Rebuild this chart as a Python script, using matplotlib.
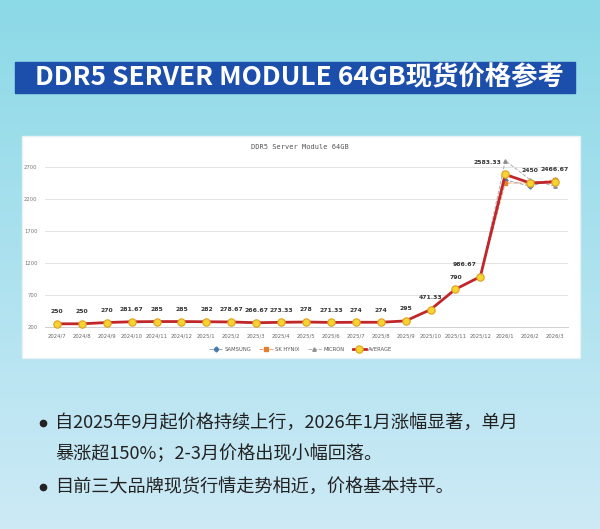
import matplotlib
matplotlib.use('Agg')

import numpy as np
from matplotlib import pyplot as plt
from matplotlib.patches import Rectangle

plt.rcParams['font.family'] = ['Noto Sans CJK SC', 'DejaVu Sans']

months = ['2024/7', '2024/8', '2024/9', '2024/10', '2024/11', '2024/12', '2025/1',
          '2025/2', '2025/3', '2025/4', '2025/5', '2025/6', '2025/7', '2025/8',
          '2025/9', '2025/10', '2025/11', '2025/12', '2026/1', '2026/2', '2026/3']
average = [250, 250, 270, 281.67, 285, 285, 282, 278.67, 266.67, 273.33, 278,
           271.33, 274, 274, 295, 471.33, 790, 986.67, 2583.33, 2450, 2466.67]
samsung = [250, 250, 270, 285, 285, 285, 280, 280, 265, 275, 278, 270, 274, 274,
           295, 470, 790, 990, 2500, 2400, 2500]
sk_hynix = [250, 250, 270, 280, 285, 285, 283, 278, 268, 272, 278, 272, 274, 274,
            295, 472, 790, 985, 2450, 2450, 2500]
micron = [250, 250, 270, 280, 285, 285, 283, 278, 267, 273, 278, 272, 274, 274,
          295, 472, 790, 985, 2800, 2500, 2400]
labels = ['250', '250', '270', '281.67', '285', '285', '282', '278.67', '266.67',
          '273.33', '278', '271.33', '274', '274', '295', '471.33', '790', '986.67',
          '2583.33', '2450', '2466.67']
yticks = [200, 700, 1200, 1700, 2200, 2700]

title = 'DDR5 SERVER MODULE 64GB现货价格参考'
bullets = ['自2025年9月起价格持续上行，2026年1月涨幅显著，单月',
           '暴涨超150%；2-3月价格出现小幅回落。',
           '目前三大品牌现货行情走势相近，价格基本持平。']

W, H = 600, 529
fig = plt.figure(figsize=(W / 100, H / 100), dpi=100)

# background gradient
bg = fig.add_axes([0, 0, 1, 1])
top = np.array([0x8c, 0xd9, 0xe7]) / 255
bot = np.array([0xcd, 0xea, 0xf6]) / 255
t = np.linspace(0, 1, 256)[:, None]
grad = top * (1 - t) + bot * t
bg.imshow(grad[:, None, :].repeat(2, axis=1), aspect='auto', extent=[0, W, H, 0])
bg.set_xlim(0, W)
bg.set_ylim(H, 0)
bg.axis('off')

# title banner
bg.add_patch(Rectangle((15, 62), 560, 31, color='#1c4eab', zorder=2))
bg.text(299, 78, title, color='white', fontsize=19, fontweight='black',
        ha='center', va='center', zorder=3)

# white chart panel
bg.add_patch(Rectangle((22, 136), 558, 222, facecolor='white',
                       edgecolor='#e6f2f5', lw=1, zorder=2))
bg.text(300, 147, 'DDR5 Server Module 64GB', fontsize=5, color='#555555',
        family='DejaVu Sans Mono', ha='center', va='center', zorder=3)

# bullet text
for y, s, dot in [(423, bullets[0], True), (454, bullets[1], False), (487, bullets[2], True)]:
    if dot:
        bg.plot(43, y, 'o', ms=4.5, color='#222222', zorder=3)
    bg.text(55, y, s, fontsize=13.1, color='#222222', ha='left', va='center', zorder=3)

# the chart
x0, x1 = 44.5, 567.5
yb, yt = 327, 327 - 2600 * 0.064
ax = fig.add_axes([x0 / W, 1 - yb / H, (x1 - x0) / W, (yb - yt) / H])
ax.set_facecolor('none')
x = np.arange(len(months))

ax.plot(x, samsung, ls='--', lw=0.7, color='#8fa8b8', marker='D', ms=2.5,
        mfc='#4a78a8', mec='#4a78a8', label='SAMSUNG', zorder=3, clip_on=False)
ax.plot(x, sk_hynix, ls='--', lw=0.7, color='#f0a070', marker='s', ms=2.5,
        mfc='#e08030', mec='#e08030', label='SK HYNIX', zorder=3, clip_on=False)
ax.plot(x, micron, ls='--', lw=0.7, color='#b0b0b0', marker='^', ms=2.5,
        mfc='#909090', mec='#909090', label='MICRON', zorder=3, clip_on=False)
ax.plot(x, average, lw=2, color='#c0262a', marker='o', ms=5.3,
        mfc='#f5d330', mec='#e0a020', mew=0.8, label='AVERAGE', zorder=4, clip_on=False)

for xi, v, s in zip(x, average, labels):
    dx, ha = 0, 'center'
    if s in ('2583.33', '986.67'):
        dx, ha = -3, 'right'
    ax.annotate(s, (xi, v), xytext=(dx, 7), textcoords='offset points',
                ha=ha, va='bottom', fontsize=4.4, fontweight='bold',
                color='#333333', family='DejaVu Sans')

ax.set_xlim(-0.5, len(months) - 0.5)
ax.set_ylim(200, 2800)
ax.set_yticks(yticks)
ax.set_yticklabels([str(v) for v in yticks], fontsize=3.8, color='#777777', family='DejaVu Sans')
ax.set_xticks(x)
ax.set_xticklabels(months, fontsize=3.8, color='#666666', family='DejaVu Sans')
ax.tick_params(length=0, pad=5)
ax.grid(axis='y', color='#e3e3e3', lw=0.7)
ax.set_axisbelow(True)
for side in ['top', 'right', 'left']:
    ax.spines[side].set_visible(False)
ax.spines['bottom'].set_color('#cfcfcf')
ax.spines['bottom'].set_linewidth(0.7)

leg = ax.legend(loc='upper center', bbox_to_anchor=(0.49, -0.09), ncol=4, frameon=False,
                prop={'family': 'DejaVu Sans', 'size': 3.8}, handlelength=2.5,
                columnspacing=1.5, handletextpad=0.5)
for txt in leg.get_texts():
    txt.set_color('#555555')

fig.savefig('out.png', dpi=100)
